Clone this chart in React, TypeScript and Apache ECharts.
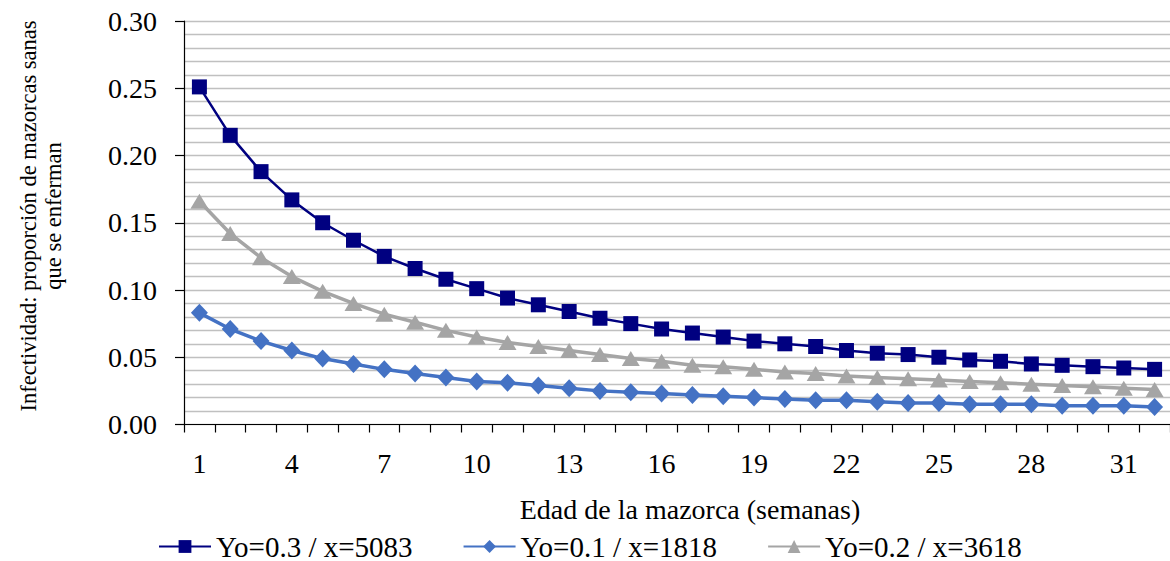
import React, { useEffect, useRef } from "react";
import * as echarts from "echarts";

// Edad de la mazorca (semanas)
const weeks: string[] = [
  "1", "2", "3", "4", "5", "6", "7", "8", "9", "10", "11", "12", "13", "14", "15", "16",
  "17", "18", "19", "20", "21", "22", "23", "24", "25", "26", "27", "28", "29", "30", "31", "32",
];

// Yo=0.3 / x=5083
const serieYo03: number[] = [
  0.251, 0.215, 0.188, 0.167, 0.150, 0.137, 0.125, 0.116, 0.108, 0.101, 0.094, 0.089,
  0.084, 0.079, 0.075, 0.071, 0.068, 0.065, 0.062, 0.060, 0.058, 0.055, 0.053, 0.052,
  0.050, 0.048, 0.047, 0.045, 0.044, 0.043, 0.042, 0.041,
];

// Yo=0.1 / x=1818
const serieYo01: number[] = [
  0.083, 0.071, 0.062, 0.055, 0.049, 0.045, 0.041, 0.038, 0.035, 0.032, 0.031, 0.029,
  0.027, 0.025, 0.024, 0.023, 0.022, 0.021, 0.020, 0.019, 0.018, 0.018, 0.017, 0.016,
  0.016, 0.015, 0.015, 0.015, 0.014, 0.014, 0.014, 0.013,
];

// Yo=0.2 / x=3618
const serieYo02: number[] = [
  0.166, 0.142, 0.124, 0.110, 0.099, 0.090, 0.082, 0.076, 0.070, 0.065, 0.061, 0.058,
  0.055, 0.052, 0.049, 0.047, 0.044, 0.043, 0.041, 0.039, 0.038, 0.036, 0.035, 0.034,
  0.033, 0.032, 0.031, 0.030, 0.029, 0.028, 0.027, 0.026,
];

const FONT = "Liberation Serif";

export default function App() {
  const ref = useRef<HTMLDivElement>(null);

  useEffect(() => {
    if (!ref.current) return;
    const chart = echarts.init(ref.current, undefined, { renderer: "svg" });

    const option: echarts.EChartsOption = {
      animation: false,
      backgroundColor: "#ffffff",
      textStyle: { fontFamily: FONT, color: "#000" },
      grid: { left: 184, top: 21, width: 989, height: 403.5, containLabel: false },
      legend: {
        left: 153,
        top: 527,
        itemWidth: 52,
        itemHeight: 16,
        itemGap: 50,
        textStyle: { fontFamily: FONT, fontSize: 29, color: "#000" },
        data: ["Yo=0.3 / x=5083", "Yo=0.1 / x=1818", "Yo=0.2 / x=3618"],
      },
      xAxis: {
        type: "category",
        data: weeks,
        boundaryGap: true,
        axisLine: { lineStyle: { color: "#000", width: 1.2 } },
        axisTick: { show: true, interval: 0, length: 8, lineStyle: { color: "#000", width: 1.2 } },
        axisLabel: {
          interval: 2,
          fontSize: 28,
          fontFamily: FONT,
          color: "#000",
          margin: 25,
        },
        splitLine: { show: false },
      },
      yAxis: {
        type: "value",
        min: 0,
        max: 0.3,
        interval: 0.05,
        axisLine: { show: true, lineStyle: { color: "#000", width: 1.2 } },
        axisTick: { show: true, length: 9, lineStyle: { color: "#000", width: 1.2 } },
        axisLabel: {
          fontSize: 28,
          fontFamily: FONT,
          color: "#000",
          margin: 27,
          formatter: (v: number) => v.toFixed(2),
        },
        splitLine: { show: true, lineStyle: { color: "#c0c0c0", width: 1.3 } },
        minorTick: { show: false, splitNumber: 5 },
        minorSplitLine: { show: true, lineStyle: { color: "#c0c0c0", width: 1.3 } },
      },
      graphic: [
        {
          type: "text",
          x: 690,
          y: 509,
          style: {
            text: "Edad de la mazorca (semanas)",
            fontFamily: FONT,
            fontSize: 28,
            fill: "#000",
            align: "center",
            verticalAlign: "middle",
            textAlign: "center",
            textVerticalAlign: "middle",
          } as any,
        },
        {
          type: "text",
          x: 41,
          y: 216,
          rotation: Math.PI / 2,
          style: {
            text: "Infectividad: proporción de mazorcas sanas\nque se enferman",
            fontFamily: FONT,
            fontSize: 22.5,
            lineHeight: 25,
            fill: "#000",
            align: "center",
            verticalAlign: "middle",
            textAlign: "center",
            textVerticalAlign: "middle",
          } as any,
        },
      ],
      series: [
        {
          name: "Yo=0.3 / x=5083",
          type: "line",
          data: serieYo03,
          symbol: "rect",
          symbolSize: 15,
          lineStyle: { color: "#000080", width: 2.5 },
          itemStyle: { color: "#000080" },
          z: 4,
        },
        {
          name: "Yo=0.1 / x=1818",
          type: "line",
          data: serieYo01,
          symbol: "diamond",
          symbolSize: [17, 18],
          lineStyle: { color: "#4472c4", width: 3.5 },
          itemStyle: { color: "#4472c4" },
          z: 3,
        },
        {
          name: "Yo=0.2 / x=3618",
          type: "line",
          data: serieYo02,
          symbol: "triangle",
          symbolSize: [18, 15],
          lineStyle: { color: "#a5a5a5", width: 3.5 },
          itemStyle: { color: "#a5a5a5" },
          z: 2,
        },
      ],
    };

    chart.setOption(option);
    return () => chart.dispose();
  }, []);

  return (
    <div
      ref={ref}
      style={{ position: "absolute", left: 0, top: 0, width: 1170, height: 561, background: "#fff" }}
    />
  );
}
